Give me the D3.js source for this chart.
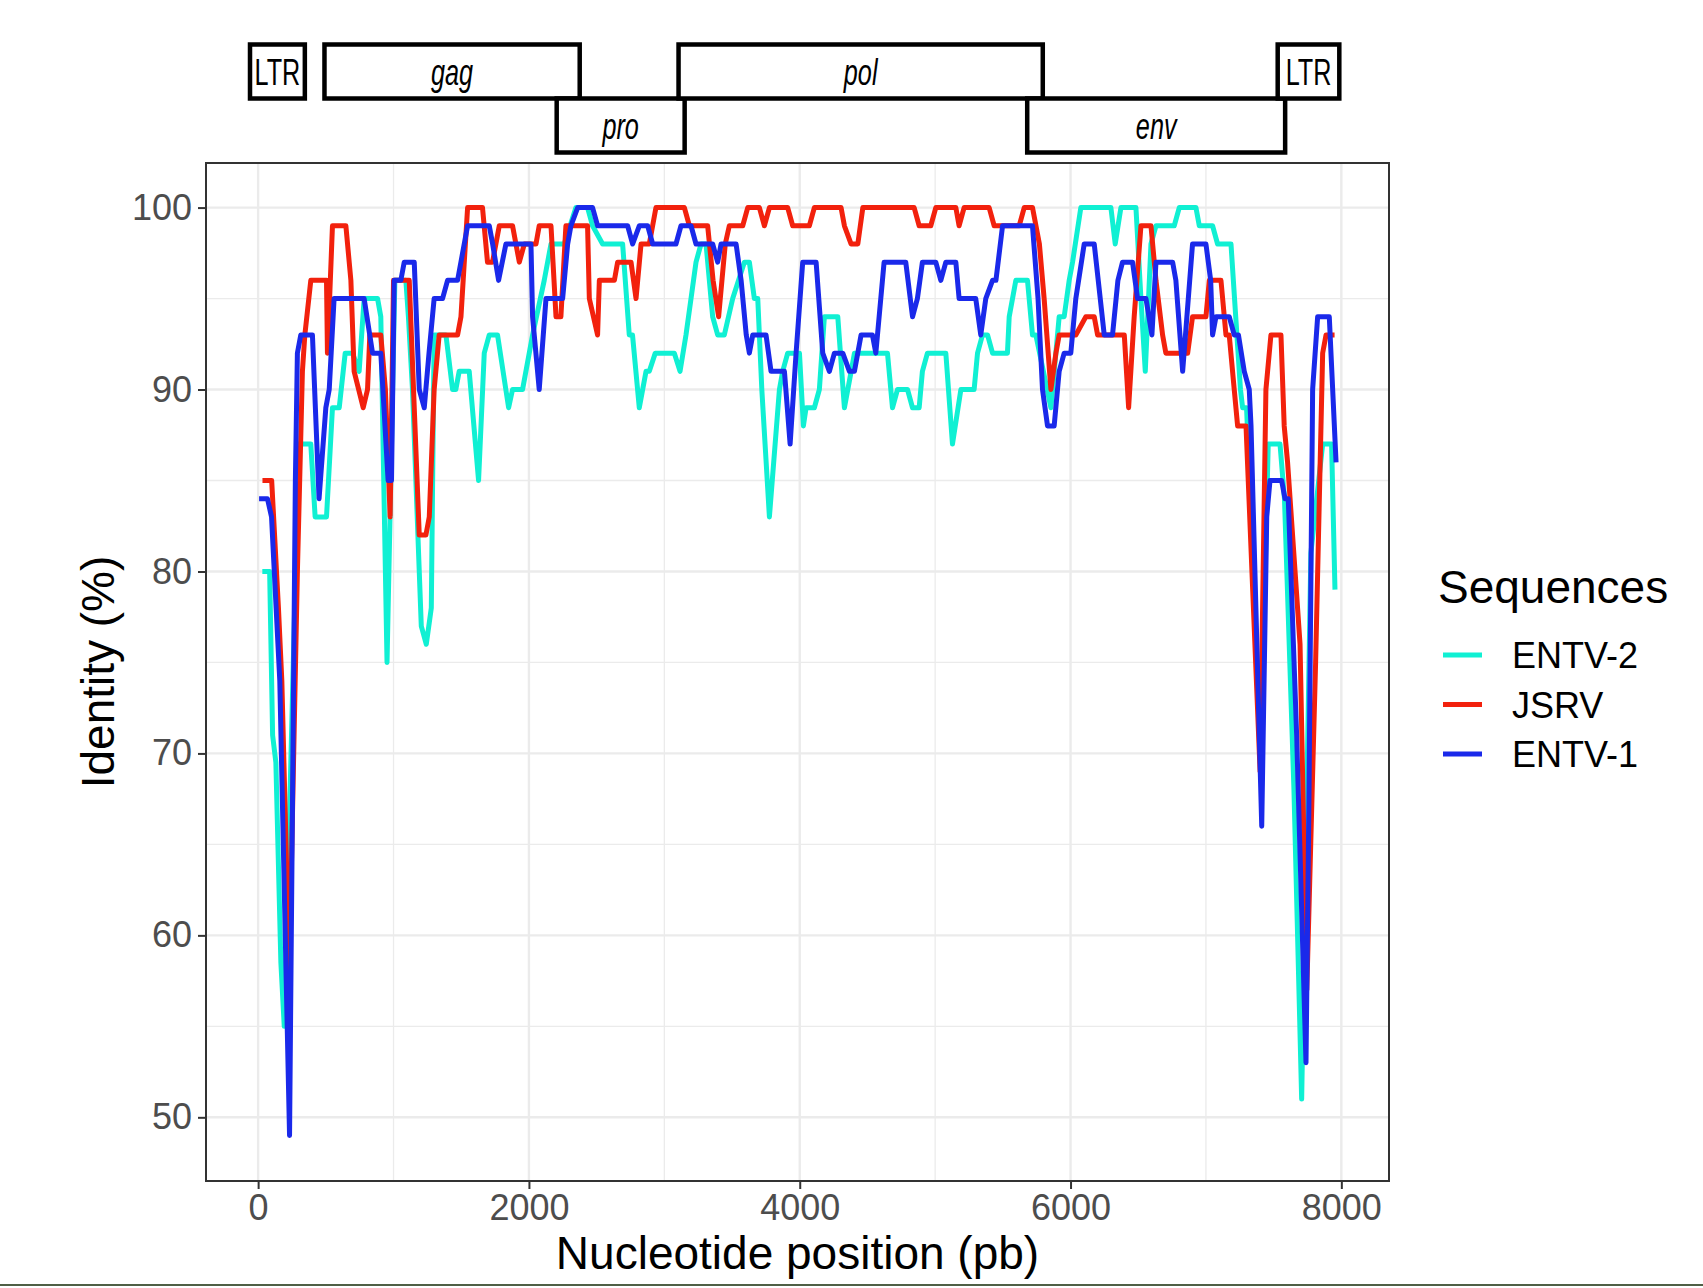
<!DOCTYPE html>
<html><head><meta charset="utf-8">
<script src="https://cdn.jsdelivr.net/npm/d3@7"></script>
<style>body{margin:0;background:#fff;} svg{display:block;font-family:"Liberation Sans",Arial,sans-serif;}</style>
</head><body><svg id="chart" width="1703" height="1288"></svg>
<script>
const seriesNames = ["ENTV-2", "JSRV", "ENTV-1"];
const seriesColors = ["#10f0d3", "#f2210d", "#1a29ea"];

const entv2 = [[31,80],[85,80],[107,71],[131,69.5],[168,58.5],[193,55],[300,87],[389,87],[421,83],[505,83],[549,89],[599,89],[643,92],[697,92],[746,91],[783,95],[882,95],[906,94],[952,75],[1010,96],[1091,96],[1110,94],[1140,90],[1205,77],[1242,76],[1279,78],[1300,93],[1387,93],[1436,90],[1460,90],[1485,91],[1559,91],[1628,85],[1670,92],[1707,93],[1768,93],[1850,89],[1879,90],[1953,90],[2027,93],[2113,96],[2163,98],[2261,98],[2347,100],[2433,100],[2470,99],[2544,98],[2692,98],[2741,93],[2765,93],[2815,89],[2865,91],[2889,91],[2933,92],[3074,92],[3116,91],[3160,93],[3197,95],[3234,97],[3271,98],[3308,98],[3357,94],[3394,93],[3443,93],[3505,95],[3591,97],[3628,97],[3665,95],[3690,95],[3720,90],[3776,83],[3850,90],[3874,91],[3911,92],[3998,92],[4027,88],[4047,89],[4108,89],[4145,90],[4182,94],[4281,94],[4330,89],[4380,91],[4404,92],[4648,92],[4685,89],[4722,90],[4796,90],[4833,89],[4882,89],[4906,91],[4943,92],[5079,92],[5128,87],[5190,90],[5288,90],[5313,92],[5350,93],[5387,93],[5424,92],[5534,92],[5547,94],[5596,96],[5682,96],[5719,93],[5744,93],[5855,89],[5916,94],[5953,94],[5990,96],[6015,97],[6076,100],[6298,100],[6330,98],[6372,100],[6483,100],[6520,95],[6552,91],[6594,98],[6631,99],[6766,99],[6803,100],[6926,100],[6951,99],[7049,99],[7086,98],[7185,98],[7220,94],[7255,90],[7271,89],[7300,89],[7405,70],[7460,87],[7547,87],[7580,84],[7650,68],[7707,51],[7775,81],[7862,87],[7928,87],[7953,79]];

const jsrv = [[32,85],[100,85],[150,78],[175,74],[230,58],[290,80],[327,91],[345,93],[389,96],[505,96],[512,92],[549,99],[648,99],[685,96],[709,91],[776,89],[808,90],[825,93],[906,93],[940,90],[975,83],[1000,96],[1116,96],[1190,82],[1239,82],[1264,83],[1300,90],[1337,93],[1473,93],[1498,94],[1547,100],[1657,100],[1694,97],[1731,97],[1781,99],[1879,99],[1929,97],[1966,98],[2052,98],[2076,99],[2163,99],[2200,94],[2236,94],[2273,99],[2433,99],[2446,95],[2507,93],[2520,96],[2631,96],[2655,97],[2754,97],[2791,95],[2828,98],[2889,98],[2938,100],[3148,100],[3185,99],[3320,99],[3360,96],[3401,94],[3450,98],[3480,99],[3579,99],[3616,100],[3702,100],[3739,99],[3776,100],[3911,100],[3948,99],[4071,99],[4108,100],[4305,100],[4330,99],[4379,98],[4429,98],[4466,100],[4845,100],[4882,99],[4968,99],[5005,100],[5153,100],[5177,99],[5214,100],[5399,100],[5436,99],[5621,99],[5658,100],[5719,100],[5770,98],[5805,95],[5855,90],[5892,92],[5916,93],[6039,93],[6113,94],[6175,94],[6200,93],[6397,93],[6429,89],[6470,94],[6520,99],[6594,99],[6631,96],[6680,93],[6704,92],[6865,92],[6901,94],[7000,94],[7025,96],[7111,96],[7148,93],[7172,93],[7209,90],[7234,88],[7296,88],[7400,69],[7443,90],[7480,93],[7554,93],[7578,88],[7603,86],[7695,76],[7745,57],[7810,75],[7862,92],[7887,93],[7950,93]];

const entv1 = [[7,84],[69,84],[99,83],[160,74],[232,49],[275,85],[290,92],[315,93],[401,93],[450,84],[500,89],[525,90],[561,95],[783,95],[845,92],[906,92],[960,85],[985,85],[1005,96],[1054,96],[1079,97],[1153,97],[1190,90],[1227,89],[1262,92],[1300,95],[1362,95],[1399,96],[1473,96],[1547,99],[1707,99],[1732,98],[1776,96],[1830,98],[2015,98],[2027,94],[2076,90],[2126,95],[2249,95],[2286,98],[2310,99],[2360,100],[2470,100],[2507,99],[2729,99],[2766,98],[2815,99],[2877,99],[2914,98],[3086,98],[3123,99],[3197,99],[3234,98],[3357,98],[3394,97],[3419,98],[3530,98],[3567,96],[3605,93],[3628,92],[3653,93],[3751,93],[3788,91],[3887,91],[3929,87],[3973,92],[4022,97],[4121,97],[4170,92],[4219,91],[4256,92],[4318,92],[4367,91],[4404,91],[4453,93],[4537,93],[4562,92],[4623,97],[4783,97],[4833,94],[4869,95],[4906,97],[5005,97],[5042,96],[5079,97],[5153,97],[5177,95],[5300,95],[5337,93],[5374,95],[5424,96],[5449,96],[5498,99],[5719,99],[5760,95],[5793,90],[5830,88],[5879,88],[5916,91],[5953,92],[6002,92],[6039,95],[6101,98],[6175,98],[6249,93],[6310,93],[6350,96],[6384,97],[6458,97],[6495,95],[6557,95],[6601,93],[6631,97],[6754,97],[6778,96],[6828,91],[6901,98],[7000,98],[7035,96],[7049,93],[7074,94],[7172,94],[7209,93],[7240,93],[7283,91],[7320,90],[7333,88],[7412,66],[7449,83],[7473,85],[7559,85],[7584,84],[7608,84],[7670,71],[7739,53],[7760,67],[7788,90],[7825,94],[7911,94],[7961,86]];

const xTicks = [0, 2000, 4000, 6000, 8000];
const xMinor = [1000, 3000, 5000, 7000];
const yTicks = [50, 60, 70, 80, 90, 100];
const yMinor = [55, 65, 75, 85, 95];

const geneNames = ["LTR", "gag", "pro", "pol", "env", "LTR"];
const geneStart = [-60, 490, 2205, 3105, 5680, 7530];
const geneEnd = [345, 2375, 3150, 5795, 7585, 7985];
const geneRow = [0, 0, 1, 0, 1, 0];
const geneItalic = [false, true, true, true, true, false];

const seriesData = [entv2, jsrv, entv1];

const svg = d3.select("#chart");
svg.append("rect").attr("width", 1703).attr("height", 1288).attr("fill", "#fff");

const P = {l: 206, r: 1389, t: 163, b: 1181};
const x = d3.scaleLinear().domain([-385, 8352]).range([P.l, P.r]);
const y = d3.scaleLinear().domain([46.5, 102.45]).range([P.b, P.t]);

const g = svg.append("g");
g.selectAll(".xmin").data(xMinor).join("line")
  .attr("x1", d => x(d)).attr("x2", d => x(d)).attr("y1", P.t).attr("y2", P.b)
  .attr("stroke", "#ebebeb").attr("stroke-width", 1.3);
g.selectAll(".ymin").data(yMinor).join("line")
  .attr("y1", d => y(d)).attr("y2", d => y(d)).attr("x1", P.l).attr("x2", P.r)
  .attr("stroke", "#ebebeb").attr("stroke-width", 1.3);
g.selectAll(".xmaj").data(xTicks).join("line")
  .attr("x1", d => x(d)).attr("x2", d => x(d)).attr("y1", P.t).attr("y2", P.b)
  .attr("stroke", "#ebebeb").attr("stroke-width", 2.4);
g.selectAll(".ymaj").data(yTicks).join("line")
  .attr("y1", d => y(d)).attr("y2", d => y(d)).attr("x1", P.l).attr("x2", P.r)
  .attr("stroke", "#ebebeb").attr("stroke-width", 2.4);

const line = d3.line().x(d => x(d[0])).y(d => y(d[1]));
seriesData.forEach((s, i) => {
  svg.append("path").datum(s).attr("d", line)
    .attr("fill", "none").attr("stroke", seriesColors[i])
    .attr("stroke-width", 5).attr("stroke-linejoin", "round").attr("stroke-linecap", "butt");
});

svg.append("rect").attr("x", P.l).attr("y", P.t).attr("width", P.r - P.l).attr("height", P.b - P.t)
  .attr("fill", "none").attr("stroke", "#333333").attr("stroke-width", 2);

const xAxis = d3.axisBottom(x).tickValues(xTicks).tickSize(8).tickPadding(5).tickFormat(d3.format("d"));
const gx = svg.append("g").attr("transform", `translate(0,${P.b})`).call(xAxis);
gx.select(".domain").remove();
gx.selectAll(".tick line").attr("stroke", "#333333").attr("stroke-width", 2);
gx.selectAll(".tick text").attr("fill", "#4d4d4d").attr("font-size", 36)
  .attr("font-family", "Liberation Sans, Arial, sans-serif").attr("dy", "0.71em").attr("y", 13);

const yAxis = d3.axisLeft(y).tickValues(yTicks).tickSize(8).tickPadding(6);
const gy = svg.append("g").attr("transform", `translate(${P.l},0)`).call(yAxis);
gy.select(".domain").remove();
gy.selectAll(".tick line").attr("stroke", "#333333").attr("stroke-width", 2);
gy.selectAll(".tick text").attr("fill", "#4d4d4d").attr("font-size", 36)
  .attr("font-family", "Liberation Sans, Arial, sans-serif");

svg.append("text").attr("x", (P.l + P.r) / 2).attr("y", 1269).attr("text-anchor", "middle")
  .attr("font-size", 46).attr("fill", "#000").text("Nucleotide position (pb)");
svg.append("text").attr("transform", `translate(114,${(P.t + P.b) / 2}) rotate(-90)`)
  .attr("text-anchor", "middle").attr("font-size", 46).attr("fill", "#000").text("Identity (%)");

svg.append("text").attr("x", 1438).attr("y", 603).attr("font-size", 46).attr("fill", "#000").text("Sequences");
const legY = [655, 704.5, 754];
seriesNames.forEach((n, i) => {
  svg.append("line").attr("x1", 1443).attr("x2", 1482).attr("y1", legY[i]).attr("y2", legY[i])
    .attr("stroke", seriesColors[i]).attr("stroke-width", 5);
  svg.append("text").attr("x", 1512).attr("y", legY[i] + 13).attr("font-size", 36).attr("fill", "#000").text(n);
});

const rowTop = [44.5, 98.5];
const rowH = 54;
geneNames.forEach((n, i) => {
  const x0 = x(geneStart[i]), x1 = x(geneEnd[i]);
  const top = rowTop[geneRow[i]];
  svg.append("rect").attr("x", x0).attr("y", top).attr("width", x1 - x0).attr("height", rowH)
    .attr("fill", "#fff").attr("stroke", "#000").attr("stroke-width", 4.5);
});
geneNames.forEach((n, i) => {
  const x0 = x(geneStart[i]), x1 = x(geneEnd[i]);
  const top = rowTop[geneRow[i]];
  const t = svg.append("text").attr("x", (x0 + x1) / 2).attr("y", top + rowH / 2 + 13)
    .attr("text-anchor", "middle").attr("font-size", 36)
    .attr("font-style", geneItalic[i] ? "italic" : "normal").attr("fill", "#000").text(n);
  const w = t.node().getComputedTextLength();
  t.attr("textLength", w * 0.7).attr("lengthAdjust", "spacingAndGlyphs");
});

svg.append("rect").attr("x", 0).attr("y", 1284).attr("width", 1703).attr("height", 2).attr("fill", "#4f5f45");
</script></body></html>
